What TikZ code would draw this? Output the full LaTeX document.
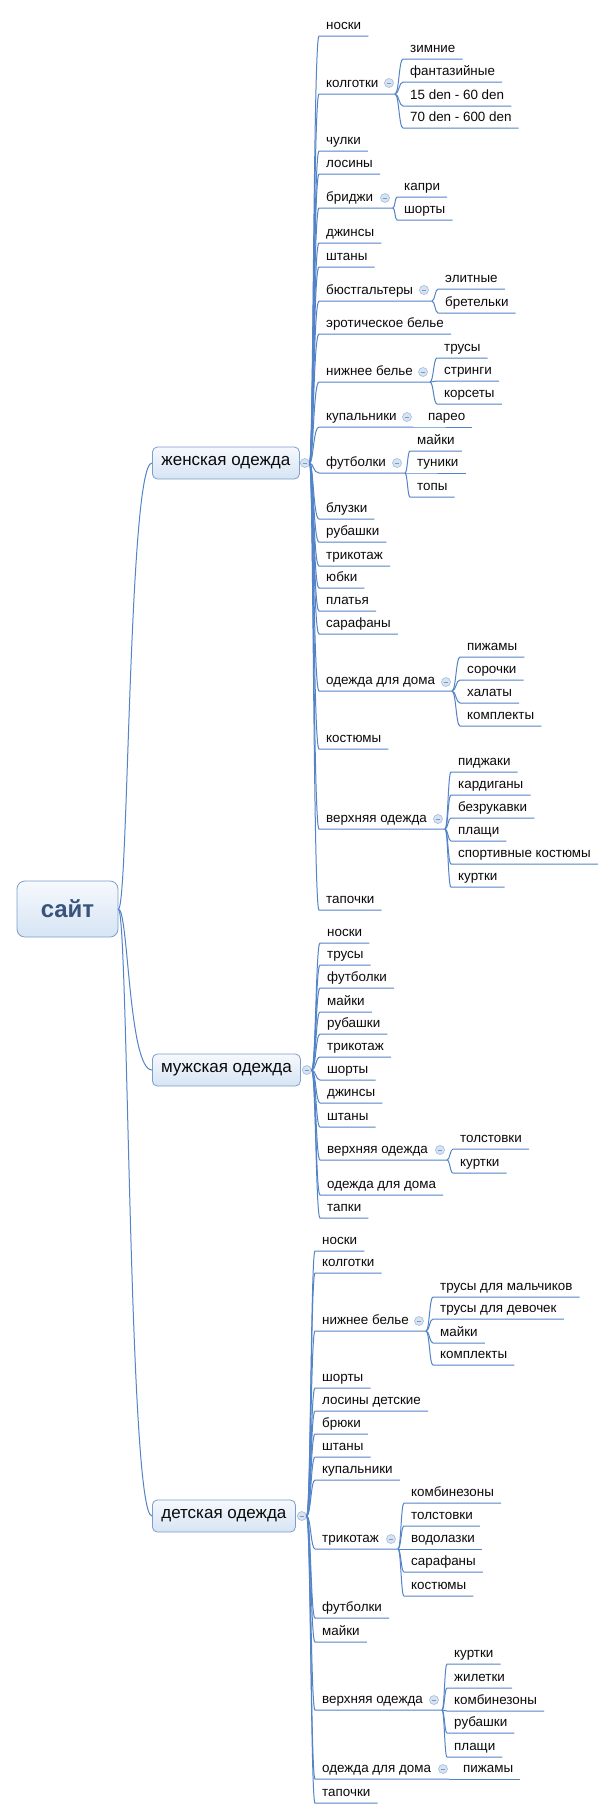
\documentclass[tikz,border=0pt]{standalone}
\usepackage{fontspec}
\setmainfont{Liberation Sans}
\usetikzlibrary{calc}
\definecolor{ln}{RGB}{84,132,200}
\definecolor{bd}{RGB}{125,158,202}
\definecolor{btop}{RGB}{246,249,253}
\definecolor{bbot}{RGB}{214,228,244}
\definecolor{txt}{RGB}{10,10,10}
\definecolor{roottxt}{RGB}{56,84,124}
\definecolor{tgf}{RGB}{214,227,243}
\definecolor{tgd}{RGB}{165,188,218}
\definecolor{tgm}{RGB}{125,152,190}
\newcommand\mmlink[4][0.5]{\coordinate (mm) at ($(#2)!#1!(#3)$);\draw[con] (#2) .. controls (mm |- #2) and (mm |- #3) .. (#3) -- (#4);}
\tikzset{
 con/.style={draw=ln, line width=1pt},
 lf/.style={anchor=south west, inner xsep=7pt, inner ysep=0pt, text height=10pt, text depth=6.7pt, text=txt, font=\fontsize{13.4}{15}\selectfont},
 lvone/.style={draw=bd, line width=0.8pt, rounded corners=5pt, top color=btop, bottom color=bbot, anchor=west, minimum height=32pt, inner xsep=0pt, text=txt, font=\fontsize{17}{20}\selectfont},
 rootbox/.style={draw=bd, line width=0.8pt, rounded corners=8pt, top color=btop, bottom color=bbot, minimum width=101pt, minimum height=56pt, text=roottxt, font=\fontsize{24}{28}\selectfont\bfseries},
 tog/.style={circle, draw=tgd, fill=tgf, line width=0.6pt, minimum size=9pt, inner sep=0pt, path picture={\draw[tgm, line width=0.8pt] ([xshift=2.2pt]path picture bounding box.west) -- ([xshift=-2.2pt]path picture bounding box.east);}},
}
\begin{document}
\begin{tikzpicture}[x=1pt,y=-1pt]
\fill[white] (0,0) rectangle (612,1818);
\useasboundingbox (0,0) rectangle (612,1818);
% root and level 1
\node[rootbox] (root) at (67.5,909) {сайт};
\node[lvone, minimum width=147pt] (wbox) at (152,463) {женская одежда};
\node[lvone, minimum width=148pt] (mbox) at (152,1070) {мужская одежда};
\node[lvone, minimum width=143pt] (dbox) at (152,1516) {детская одежда};
\mmlink[0.3]{root.east}{wbox.west}{wbox.west}
\mmlink[0.3]{root.east}{mbox.west}{mbox.west}
\mmlink[0.3]{root.east}{dbox.west}{dbox.west}
\node[tog] (wt) at ([xshift=5pt]wbox.east) {};
\node[tog] (mt) at ([xshift=6pt]mbox.east) {};
\node[tog] (dt) at ([xshift=6pt]dbox.east) {};
% ---------------- женская одежда
\node[lf] (w1) at (319,36) {носки};
\node[lf] (w2) at (319,94) {колготки};
\node[lf] (w2a) at (403,59) {зимние};
\node[lf] (w2b) at (403,82) {фантазийные};
\node[lf] (w2c) at (403,106) {15 den - 60 den};
\node[lf] (w2d) at (403,128) {70 den - 600 den};
\node[lf] (w3) at (319,151) {чулки};
\node[lf] (w4) at (319,174) {лосины};
\node[lf] (w5) at (319,208) {бриджи};
\node[lf] (w5a) at (397,197) {капри};
\node[lf] (w5b) at (397,220) {шорты};
\node[lf] (w6) at (319,243) {джинсы};
\node[lf] (w7) at (319,267) {штаны};
\node[lf] (w8) at (319,301) {бюстгальтеры};
\node[lf] (w8a) at (438,289) {элитные};
\node[lf] (w8b) at (438,313) {бретельки};
\node[lf] (w9) at (319,334) {эротическое белье};
\node[lf] (w10) at (319,382) {нижнее белье};
\node[lf] (w10a) at (437,358) {трусы};
\node[lf] (w10b) at (437,381) {стринги};
\node[lf] (w10c) at (437,404) {корсеты};
\node[lf] (w11) at (319,427) {купальники};
\node[lf] (w11a) at (421,427) {парео};
\node[lf] (w12) at (319,473) {футболки};
\node[lf] (w12a) at (410,451) {майки};
\node[lf] (w12b) at (410,473) {туники};
\node[lf] (w12c) at (410,497) {топы};
\node[lf] (w13) at (319,519) {блузки};
\node[lf] (w14) at (319,542) {рубашки};
\node[lf] (w15) at (319,566) {трикотаж};
\node[lf] (w16) at (319,588) {юбки};
\node[lf] (w17) at (319,611) {платья};
\node[lf] (w18) at (319,634) {сарафаны};
\node[lf] (w19) at (319,691) {одежда для дома};
\node[lf] (w19a) at (460,657) {пижамы};
\node[lf] (w19b) at (460,680) {сорочки};
\node[lf] (w19c) at (460,703) {халаты};
\node[lf] (w19d) at (460,726) {комплекты};
\node[lf] (w20) at (319,749) {костюмы};
\node[lf] (w21) at (319,829) {верхняя одежда};
\node[lf] (w21a) at (451,772) {пиджаки};
\node[lf] (w21b) at (451,795) {кардиганы};
\node[lf] (w21c) at (451,818) {безрукавки};
\node[lf] (w21d) at (451,841) {плащи};
\node[lf] (w21e) at (451,864) {спортивные костюмы};
\node[lf] (w21f) at (451,887) {куртки};
\node[lf] (w22) at (319,910) {тапочки};
\coordinate (w2s) at (395,94);
\coordinate (w5s) at (393,208);
\coordinate (w8s) at (432,301);
\coordinate (w10s) at (430,382);
\coordinate (w11s) at (413,427);
\coordinate (w12s) at (405,473);
\coordinate (w19s) at (452,691);
\coordinate (w21s) at (445,829);
\foreach \c in {w1,w3,w4,w6,w7,w9,w13,w14,w15,w16,w17,w18,w20,w22}{\mmlink[0.4]{wt.east}{\c.south west}{\c.south east}}
\foreach \c in {w2,w5,w8,w10,w11,w12,w19,w21}{\mmlink[0.4]{wt.east}{\c.south west}{\c s}}
\foreach \c in {w2a,w2b,w2c,w2d}{\mmlink{w2s}{\c.south west}{\c.south east}}
\foreach \c in {w5a,w5b}{\mmlink{w5s}{\c.south west}{\c.south east}}
\foreach \c in {w8a,w8b}{\mmlink{w8s}{\c.south west}{\c.south east}}
\foreach \c in {w10a,w10b,w10c}{\mmlink{w10s}{\c.south west}{\c.south east}}
\mmlink{w11s}{w11a.south west}{w11a.south east}
\foreach \c in {w12a,w12b,w12c}{\mmlink{w12s}{\c.south west}{\c.south east}}
\foreach \c in {w19a,w19b,w19c,w19d}{\mmlink{w19s}{\c.south west}{\c.south east}}
\foreach \c in {w21a,w21b,w21c,w21d,w21e,w21f}{\mmlink{w21s}{\c.south west}{\c.south east}}
\node[tog] at (389,83) {};
\node[tog] at (385,198) {};
\node[tog] at (424,290) {};
\node[tog] at (423,372) {};
\node[tog] at (407,417) {};
\node[tog] at (397,463) {};
\node[tog] at (446,682) {};
\node[tog] at (438,819) {};
% ---------------- мужская одежда
\node[lf] (m1) at (320,943) {носки};
\node[lf] (m2) at (320,965) {трусы};
\node[lf] (m3) at (320,988) {футболки};
\node[lf] (m4) at (320,1012) {майки};
\node[lf] (m5) at (320,1034) {рубашки};
\node[lf] (m6) at (320,1057) {трикотаж};
\node[lf] (m7) at (320,1080) {шорты};
\node[lf] (m8) at (320,1103) {джинсы};
\node[lf] (m9) at (320,1127) {штаны};
\node[lf] (m10) at (320,1160) {верхняя одежда};
\node[lf] (m10a) at (453,1149) {толстовки};
\node[lf] (m10b) at (453,1173) {куртки};
\node[lf] (m11) at (320,1195) {одежда для дома};
\node[lf] (m12) at (320,1218) {тапки};
\coordinate (m10s) at (447,1160);
\foreach \c in {m1,m2,m3,m4,m5,m6,m7,m8,m9,m11,m12}{\mmlink{mt.east}{\c.south west}{\c.south east}}
\mmlink{mt.east}{m10.south west}{m10s}
\foreach \c in {m10a,m10b}{\mmlink{m10s}{\c.south west}{\c.south east}}
\node[tog] at (440,1150) {};
% ---------------- детская одежда
\node[lf] (d1) at (315,1251) {носки};
\node[lf] (d2) at (315,1273) {колготки};
\node[lf] (d3) at (315,1331) {нижнее белье};
\node[lf] (d3a) at (433,1297) {трусы для мальчиков};
\node[lf] (d3b) at (433,1319) {трусы для девочек};
\node[lf] (d3c) at (433,1343) {майки};
\node[lf] (d3d) at (433,1365) {комплекты};
\node[lf] (d4) at (315,1388) {шорты};
\node[lf] (d5) at (315,1411) {лосины детские};
\node[lf] (d6) at (315,1434) {брюки};
\node[lf] (d7) at (315,1457) {штаны};
\node[lf] (d8) at (315,1480) {купальники};
\node[lf] (d9) at (315,1549) {трикотаж};
\node[lf] (d9a) at (404,1503) {комбинезоны};
\node[lf] (d9b) at (404,1526) {толстовки};
\node[lf] (d9c) at (404,1549) {водолазки};
\node[lf] (d9d) at (404,1572) {сарафаны};
\node[lf] (d9e) at (404,1596) {костюмы};
\node[lf] (d10) at (315,1618) {футболки};
\node[lf] (d11) at (315,1642) {майки};
\node[lf] (d12) at (315,1710) {верхняя одежда};
\node[lf] (d12a) at (447,1664) {куртки};
\node[lf] (d12b) at (447,1688) {жилетки};
\node[lf] (d12c) at (447,1711) {комбинезоны};
\node[lf] (d12d) at (447,1733) {рубашки};
\node[lf] (d12e) at (447,1757) {плащи};
\node[lf] (d13) at (315,1779) {одежда для дома};
\node[lf] (d13a) at (456,1779) {пижамы};
\node[lf] (d14) at (315,1803) {тапочки};
\coordinate (d3s) at (426,1331);
\coordinate (d9s) at (398,1549);
\coordinate (d12s) at (442,1710);
\coordinate (d13s) at (449,1779);
\foreach \c in {d1,d2,d4,d5,d6,d7,d8,d10,d11,d14}{\mmlink{dt.east}{\c.south west}{\c.south east}}
\foreach \c in {d3,d9,d12,d13}{\mmlink{dt.east}{\c.south west}{\c s}}
\foreach \c in {d3a,d3b,d3c,d3d}{\mmlink{d3s}{\c.south west}{\c.south east}}
\foreach \c in {d9a,d9b,d9c,d9d,d9e}{\mmlink{d9s}{\c.south west}{\c.south east}}
\foreach \c in {d12a,d12b,d12c,d12d,d12e}{\mmlink{d12s}{\c.south west}{\c.south east}}
\mmlink{d13s}{d13a.south west}{d13a.south east}
\node[tog] at (419,1321) {};
\node[tog] at (391,1539) {};
\node[tog] at (434,1700) {};
\node[tog] at (443,1769) {};
\end{tikzpicture}
\end{document}
